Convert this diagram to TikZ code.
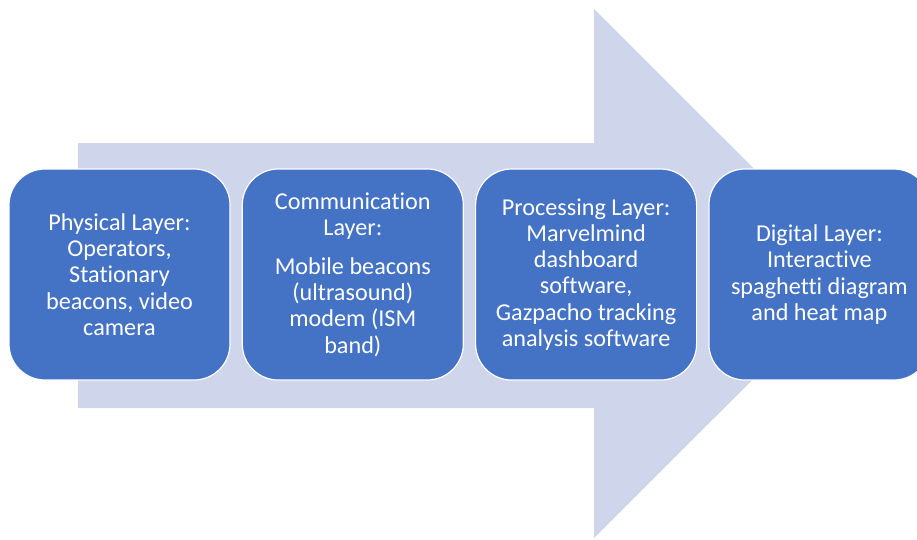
\documentclass[tikz,border=0pt]{standalone}
\usepackage{fontspec}
\setmainfont{Carlito}[Ligatures={NoCommon}]
\definecolor{layerblue}{HTML}{4472C4}
\definecolor{arrowfill}{HTML}{CFD5EA}
\begin{document}
\begin{tikzpicture}[x=1pt,y=-1pt,
  layerbox/.style={rectangle, rounded corners=36pt, fill=layerblue, draw=white,
    line width=1.2pt, minimum width=221pt, minimum height=211pt,
    text=white, align=center, inner sep=0pt,
    font=\fontsize{24.2pt}{26.2pt}\selectfont}]
  \useasboundingbox (0,0) rectangle (917,539);
  \clip (0,0) rectangle (917,539);
  % broad background arrow
  \fill[arrowfill] (78,143) -- (594,143) -- (594,9) -- (859,273.5)
    -- (594,538) -- (594,408) -- (78,408) -- cycle;
  % the four layers
  \node[layerbox] (phys) at (119.5,274.5)
    {Physical Layer:\\Operators,\\Stationary\\beacons, video\\camera};
  \node[layerbox] (comm) at (352.8,274.5)
    {Communication\\Layer:\\[13pt]Mobile beacons\\(ultrasound)\\modem (ISM\\band)};
  \node[layerbox] (proc) at (586.1,274.5)
    {Processing Layer:\\Marvelmind\\dashboard\\software,\\Gazpacho tracking\\analysis software};
  \node[layerbox] (digi) at (819.4,274.5)
    {Digital Layer:\\Interactive\\spaghetti diagram\\and heat map};
\end{tikzpicture}
\end{document}
